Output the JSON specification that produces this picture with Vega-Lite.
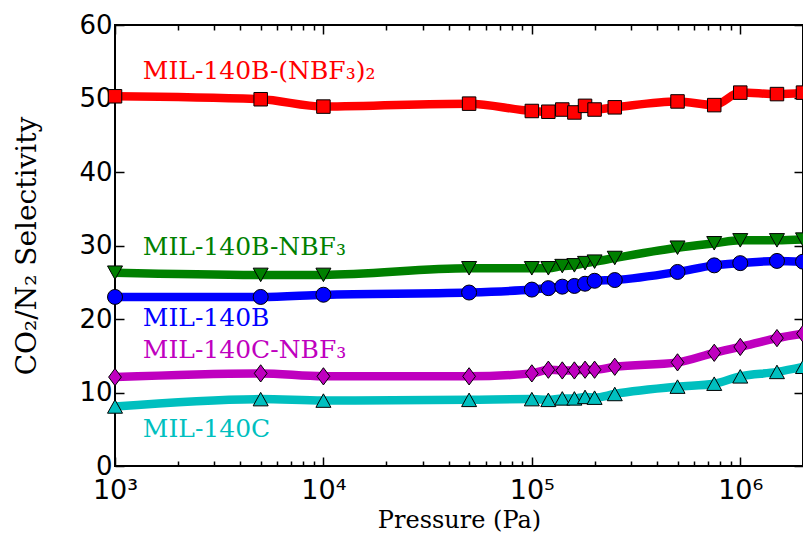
{
  "$schema": "https://vega.github.io/schema/vega-lite/v6.json",
  "width": 688,
  "height": 441,
  "autosize": {"type": "none"},
  "padding": {"left": 115, "top": 25, "right": 0, "bottom": 81},
  "background": "white",
  "config": {
    "view": {"stroke": "black", "strokeWidth": 2},
    "axis": {"domain": false, "grid": false, "tickColor": "black", "tickWidth": 1.5, "labelColor": "black", "titleColor": "black"}
  },
  "datasets": {
    "pts": [
      {"series": "A", "p": 1000, "v": 50.3}, {"series": "A", "p": 5000, "v": 49.9}, {"series": "A", "p": 10000, "v": 48.9},
      {"series": "A", "p": 50000, "v": 49.3}, {"series": "A", "p": 100000, "v": 48.3}, {"series": "A", "p": 120000, "v": 48.2},
      {"series": "A", "p": 140000, "v": 48.5}, {"series": "A", "p": 160000, "v": 48.1}, {"series": "A", "p": 180000, "v": 49.0},
      {"series": "A", "p": 200000, "v": 48.5}, {"series": "A", "p": 250000, "v": 48.8}, {"series": "A", "p": 500000, "v": 49.6},
      {"series": "A", "p": 750000, "v": 49.1}, {"series": "A", "p": 1000000, "v": 50.8}, {"series": "A", "p": 1500000, "v": 50.6},
      {"series": "A", "p": 2000000, "v": 50.8},
      {"series": "B", "p": 1000, "v": 26.3}, {"series": "B", "p": 5000, "v": 26.0}, {"series": "B", "p": 10000, "v": 26.0},
      {"series": "B", "p": 50000, "v": 26.9}, {"series": "B", "p": 100000, "v": 26.9}, {"series": "B", "p": 120000, "v": 26.9},
      {"series": "B", "p": 140000, "v": 27.2}, {"series": "B", "p": 160000, "v": 27.3}, {"series": "B", "p": 180000, "v": 27.6},
      {"series": "B", "p": 200000, "v": 27.8}, {"series": "B", "p": 250000, "v": 28.3}, {"series": "B", "p": 500000, "v": 29.7},
      {"series": "B", "p": 750000, "v": 30.3}, {"series": "B", "p": 1000000, "v": 30.7}, {"series": "B", "p": 1500000, "v": 30.7},
      {"series": "B", "p": 2000000, "v": 30.8},
      {"series": "C", "p": 1000, "v": 23.0}, {"series": "C", "p": 5000, "v": 23.0}, {"series": "C", "p": 10000, "v": 23.3},
      {"series": "C", "p": 50000, "v": 23.6}, {"series": "C", "p": 100000, "v": 24.0}, {"series": "C", "p": 120000, "v": 24.2},
      {"series": "C", "p": 140000, "v": 24.4}, {"series": "C", "p": 160000, "v": 24.5}, {"series": "C", "p": 180000, "v": 24.8},
      {"series": "C", "p": 200000, "v": 25.2}, {"series": "C", "p": 250000, "v": 25.3}, {"series": "C", "p": 500000, "v": 26.4},
      {"series": "C", "p": 750000, "v": 27.3}, {"series": "C", "p": 1000000, "v": 27.6}, {"series": "C", "p": 1500000, "v": 27.9},
      {"series": "C", "p": 2000000, "v": 27.8},
      {"series": "D", "p": 1000, "v": 12.1}, {"series": "D", "p": 5000, "v": 12.6}, {"series": "D", "p": 10000, "v": 12.2},
      {"series": "D", "p": 50000, "v": 12.2}, {"series": "D", "p": 100000, "v": 12.6}, {"series": "D", "p": 120000, "v": 13.1},
      {"series": "D", "p": 140000, "v": 13.0}, {"series": "D", "p": 160000, "v": 13.0}, {"series": "D", "p": 180000, "v": 13.1},
      {"series": "D", "p": 200000, "v": 13.1}, {"series": "D", "p": 250000, "v": 13.5}, {"series": "D", "p": 500000, "v": 14.1},
      {"series": "D", "p": 750000, "v": 15.4}, {"series": "D", "p": 1000000, "v": 16.2}, {"series": "D", "p": 1500000, "v": 17.4},
      {"series": "D", "p": 2000000, "v": 18.0},
      {"series": "E", "p": 1000, "v": 8.1}, {"series": "E", "p": 5000, "v": 9.1}, {"series": "E", "p": 10000, "v": 8.9},
      {"series": "E", "p": 50000, "v": 9.0}, {"series": "E", "p": 100000, "v": 9.1}, {"series": "E", "p": 120000, "v": 9.0},
      {"series": "E", "p": 140000, "v": 9.2}, {"series": "E", "p": 160000, "v": 9.2}, {"series": "E", "p": 180000, "v": 9.4},
      {"series": "E", "p": 200000, "v": 9.3}, {"series": "E", "p": 250000, "v": 9.8}, {"series": "E", "p": 500000, "v": 10.8},
      {"series": "E", "p": 750000, "v": 11.2}, {"series": "E", "p": 1000000, "v": 12.2}, {"series": "E", "p": 1500000, "v": 12.8},
      {"series": "E", "p": 2000000, "v": 13.5}
    ],
    "labels": [
      {"series": "A", "label": "MIL-140B-(NBF₃)₂", "p": 1360, "v": 53.8},
      {"series": "B", "label": "MIL-140B-NBF₃", "p": 1360, "v": 29.8},
      {"series": "C", "label": "MIL-140B", "p": 1360, "v": 20.1},
      {"series": "D", "label": "MIL-140C-NBF₃", "p": 1360, "v": 15.8},
      {"series": "E", "label": "MIL-140C", "p": 1360, "v": 5.0}
    ]
  },
  "resolve": {"axis": {"x": "independent", "y": "independent"}},
  "layer": [
    {
      "data": {"name": "pts"},
      "mark": {"type": "line", "interpolate": "monotone", "strokeWidth": 8.5},
      "encoding": {
        "x": {"field": "p", "type": "quantitative",
          "scale": {"type": "log", "domain": [1000, 2000000], "nice": false},
          "axis": {"orient": "bottom", "values": [1000, 10000, 100000, 1000000], "tickSize": -9, "labelPadding": 20,
            "labelExpr": "datum.value == 1000 ? '10³' : datum.value == 10000 ? '10⁴' : datum.value == 100000 ? '10⁵' : datum.value == 1000000 ? '10⁶' : ''",
            "labelFont": "DejaVu Sans", "labelFontSize": 27, "labelFlush": false,
            "title": "Pressure (Pa)", "titleFont": "DejaVu Serif", "titleFontSize": 24, "titleFontWeight": "normal", "titlePadding": 5}},
        "y": {"field": "v", "type": "quantitative",
          "scale": {"domain": [0, 60], "nice": false},
          "axis": {"orient": "left", "values": [0, 10, 20, 30, 40, 50, 60], "tickSize": -9, "labelPadding": 12,
            "labelFont": "DejaVu Sans", "labelFontSize": 26,
            "title": "CO₂/N₂  Selectivity", "titleFont": "DejaVu Serif", "titleFontSize": 28, "titleFontWeight": "normal", "titlePadding": 37}},
        "color": {"field": "series", "type": "nominal",
          "scale": {"domain": ["A", "B", "C", "D", "E"], "range": ["#ff0000", "#008000", "#0000ff", "#bf00bf", "#00bfbf"]}, "legend": null},
        "detail": {"field": "series"}
      }
    },
    {
      "data": {"name": "pts"},
      "mark": {"type": "point", "filled": true, "stroke": "black", "strokeWidth": 1, "opacity": 1, "size": 225},
      "encoding": {
        "x": {"field": "p", "type": "quantitative",
          "axis": {"orient": "top", "values": [1000, 10000, 100000, 1000000], "tickSize": -9, "labels": false, "title": null}},
        "y": {"field": "v", "type": "quantitative",
          "axis": {"orient": "right", "values": [0, 10, 20, 30, 40, 50, 60], "tickSize": -9, "labels": false, "title": null}},
        "fill": {"field": "series", "type": "nominal",
          "scale": {"domain": ["A", "B", "C", "D", "E"], "range": ["#ff0000", "#008000", "#0000ff", "#bf00bf", "#00bfbf"]}, "legend": null},
        "shape": {"field": "series", "type": "nominal",
          "scale": {"domain": ["A", "B", "C", "D", "E"], "range": ["M-0.9,-0.9L0.9,-0.9L0.9,0.9L-0.9,0.9Z", "M0,0.9L1,-0.9L-1,-0.9Z", "circle", "M0,-1.15L0.85,0L0,1.15L-0.85,0Z", "M0,-0.9L1,0.9L-1,0.9Z"]}, "legend": null}
      }
    },
    {
      "data": {"name": "labels"},
      "mark": {"type": "text", "align": "left", "baseline": "middle", "font": "DejaVu Serif", "fontSize": 25},
      "encoding": {
        "x": {"field": "p", "type": "quantitative",
          "axis": {"orient": "bottom", "values": [2000, 3000, 4000, 5000, 6000, 7000, 8000, 9000, 20000, 30000, 40000, 50000, 60000, 70000, 80000, 90000, 200000, 300000, 400000, 500000, 600000, 700000, 800000, 900000, 2000000], "tickSize": -5, "labels": false, "title": null}},
        "y": {"field": "v", "type": "quantitative", "axis": null},
        "text": {"field": "label"},
        "color": {"field": "series", "type": "nominal",
          "scale": {"domain": ["A", "B", "C", "D", "E"], "range": ["#ff0000", "#008000", "#0000ff", "#bf00bf", "#00bfbf"]}, "legend": null}
      }
    },
    {
      "data": {"name": "labels"},
      "mark": {"type": "point", "opacity": 0},
      "encoding": {
        "x": {"field": "p", "type": "quantitative",
          "axis": {"orient": "top", "values": [2000, 3000, 4000, 5000, 6000, 7000, 8000, 9000, 20000, 30000, 40000, 50000, 60000, 70000, 80000, 90000, 200000, 300000, 400000, 500000, 600000, 700000, 800000, 900000, 2000000], "tickSize": -5, "labels": false, "title": null}},
        "y": {"field": "v", "type": "quantitative", "axis": null}
      }
    }
  ]
}
